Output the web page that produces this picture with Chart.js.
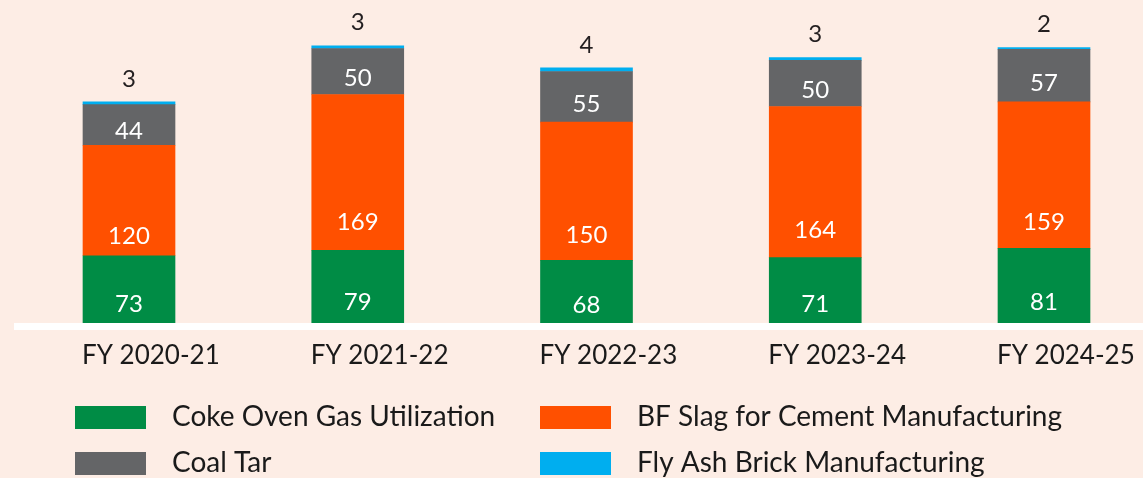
<!DOCTYPE html>
<html>
<head>
<meta charset="utf-8">
<script src="https://cdn.jsdelivr.net/npm/chart.js@4/dist/chart.umd.min.js"></script>
<style>
    html, body { margin: 0; padding: 0; background: #fdede5; }
    #wrap { width: 1143px; height: 478px; }
</style>
</head>
<body>
<div id="wrap"><canvas id="waste"></canvas></div>
<script>
// values
var years = ["FY 2020-21", "FY 2021-22", "FY 2022-23", "FY 2023-24", "FY 2024-25"];
var cokeOvenGas = [73, 79, 68, 71, 81];
var bfSlag = [120, 169, 150, 164, 159];
var coalTar = [44, 50, 55, 50, 57];
var flyAsh = [3, 3, 4, 3, 2];

var FONT = "Lato, 'Open Sans', sans-serif";

// where inside each segment the value sits (0 = top, 1 = bottom)
var labelPos = [0.72, 0.82, 0.65, null];

var barLabels = {
    id: "barLabels",
    afterDatasetsDraw: function(chart) {
        var ctx = chart.ctx;
        var yScale = chart.scales.y;
        ctx.save();
        ctx.textAlign = "center";
        ctx.textBaseline = "middle";
        chart.data.datasets.forEach(function(ds, di) {
            var meta = chart.getDatasetMeta(di);
            meta.data.forEach(function(bar, i) {
                var top = Math.min(bar.y, bar.base);
                var h = Math.abs(bar.base - bar.y);
                ctx.font = "24px " + FONT;
                if (labelPos[di] === null) {
                    ctx.fillStyle = "#231f20";
                    ctx.fillText(ds.data[i], bar.x, top - 23);
                } else {
                    ctx.fillStyle = "#ffffff";
                    ctx.fillText(ds.data[i], bar.x, top + h * labelPos[di]);
                }
            });
        });

        // white base line
        var y0 = yScale.getPixelForValue(0);
        ctx.fillStyle = "#ffffff";
        ctx.fillRect(14, y0, chart.width - 14, 7);

        // category labels, left aligned with the bars
        var xScale = chart.scales.x;
        var half = chart.getDatasetMeta(0).data[0].width / 2;
        ctx.fillStyle = "#1a1a1a";
        ctx.font = "26px " + FONT;
        ctx.textAlign = "left";
        chart.data.labels.forEach(function(lbl, i) {
            ctx.fillText(lbl, xScale.getPixelForValue(i) - half - 1, y0 + 33);
        });

        // legend as a 2x2 grid
        var cols = [{ box: 75, text: 172 }, { box: 540, text: 637 }];
        var rows = [417, 463];
        ctx.font = "28px " + FONT;
        chart.data.datasets.forEach(function(ds, k) {
            var c = cols[k % 2], r = rows[Math.floor(k / 2)];
            ctx.fillStyle = ds.backgroundColor;
            ctx.fillRect(c.box, r - 11, 71, 23);
            ctx.fillStyle = "#1a1a1a";
            ctx.fillText(ds.label, c.text, r);
        });
        ctx.restore();
    }
};

new Chart(document.getElementById("waste").getContext("2d"), {
    type: "bar",
    data: {
        labels: years,
        datasets: [
            { label: "Coke Oven Gas Utilization", data: cokeOvenGas, backgroundColor: "#008c45" },
            { label: "BF Slag for Cement Manufacturing", data: bfSlag, backgroundColor: "#ff5000" },
            { label: "Coal Tar", data: coalTar, backgroundColor: "#646567" },
            { label: "Fly Ash Brick Manufacturing", data: flyAsh, backgroundColor: "#00aeef" }
        ]
    },
    options: {
        responsive: true,
        maintainAspectRatio: false,
        animation: false,
        layout: { padding: { left: 129, right: 99, top: 19, bottom: 155 } },
        datasets: { bar: { barThickness: 92, borderWidth: 0, clip: false } },
        scales: {
            x: { stacked: true, display: false, offset: false },
            y: { stacked: true, display: false, min: 0, max: 330 }
        },
        plugins: {
            legend: { display: false },
            tooltip: { enabled: false }
        }
    },
    plugins: [barLabels]
});
</script>
</body>
</html>
